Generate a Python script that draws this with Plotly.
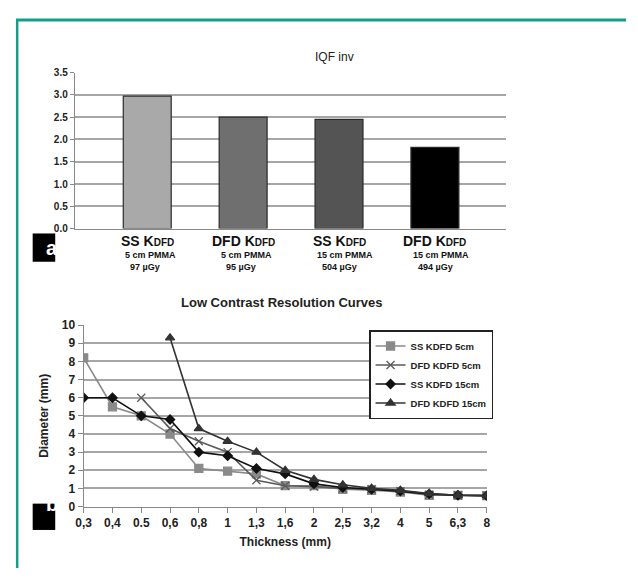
import plotly.graph_objects as go

# page is 638x583; the browser body keeps an 8px margin, so the figure is 622x567
PAGE_OFF = 8
FW, FH = 622, 567

# ---- data: top bar chart ----
bar_main = ["SS K", "DFD K", "SS K", "DFD K"]
bar_sub1 = ["5 cm PMMA", "5 cm PMMA", "15 cm PMMA", "15 cm PMMA"]
bar_sub2 = ["97 µGy", "95 µGy", "504 µGy", "494 µGy"]
bar_keys = ["SS 5", "DFD 5", "SS 15", "DFD 15"]
bar_values = [2.97, 2.5, 2.45, 1.82]
bar_colors = ["#a9a9a9", "#6f6f6f", "#545454", "#000000"]
bar_yticks = [0.0, 0.5, 1.0, 1.5, 2.0, 2.5, 3.0, 3.5]
bar_yticktext = ["0.0", "0.5", "1.0", "1.5", "2.0", "2.5", "3.0", "3.5"]

# ---- data: bottom line chart ----
thickness = ["0,3", "0,4", "0.5", "0,6", "0,8", "1", "1,3", "1,6", "2", "2,5", "3,2", "4", "5", "6,3", "8"]
ss_5 = [8.2, 5.5, 5.0, 4.0, 2.1, 1.95, 1.8, 1.15, 1.15, 0.95, 0.9, 0.8, 0.62, 0.62, 0.6]
dfd_5 = [None, None, 6.0, 4.3, 3.6, 3.0, 1.45, 1.15, 1.1, 1.0, 0.95, 0.85, 0.65, 0.62, 0.6]
ss_15 = [6.0, 6.0, 5.0, 4.8, 3.0, 2.8, 2.1, 1.8, 1.25, 1.05, 0.95, 0.85, 0.7, 0.62, 0.6]
dfd_15 = [None, None, None, 9.3, 4.3, 3.6, 3.0, 2.0, 1.5, 1.2, 1.0, 0.9, 0.72, 0.62, 0.6]
line_names = ["SS KDFD 5cm", "DFD KDFD 5cm", "SS KDFD 15cm", "DFD KDFD 15cm"]


def px(x):
    return (x - PAGE_OFF) / FW


def py(y):
    return 1 - (y - PAGE_OFF) / FH


fig = go.Figure()

fig.add_trace(go.Bar(
    x=bar_keys, y=bar_values, marker=dict(color=bar_colors, line=dict(color="#2a2a2a", width=1.2)),
    width=0.5, showlegend=False, xaxis="x", yaxis="y",
))

styles = [
    dict(color="#8a8a8a", symbol="square", size=8, lw=1.6),
    dict(color="#5a5a5a", symbol="x-thin", size=8, lw=1.6),
    dict(color="#111111", symbol="diamond", size=7, lw=1.6),
    dict(color="#333333", symbol="triangle-up", size=8, lw=1.6),
]
for name, vals, st in zip(line_names, [ss_5, dfd_5, ss_15, dfd_15], styles):
    fig.add_trace(go.Scatter(
        x=thickness, y=vals, name=name, mode="lines+markers",
        line=dict(color=st["color"], width=st["lw"]),
        marker=dict(symbol=st["symbol"], size=st["size"], color=st["color"],
                    line=dict(color=st["color"], width=1.3)),
        connectgaps=False, xaxis="x2", yaxis="y2",
    ))

grid = "#a6a6a6"
FONT = "Liberation Sans Narrow, Liberation Sans"

fig.update_layout(
    width=FW, height=FH, margin=dict(l=0, r=0, t=0, b=0),
    paper_bgcolor="white", plot_bgcolor="white",
    xaxis=dict(domain=[px(68), px(508)], range=[-0.755, 3.745], showticklabels=False,
               showline=True, linecolor="#888", linewidth=1.2, ticks="", showgrid=False,
               anchor="y", fixedrange=True),
    yaxis=dict(domain=[py(227), py(67)], range=[0, 3.5], tickvals=bar_yticks, ticktext=bar_yticktext,
               showline=True, linecolor="#888", linewidth=1.2, ticks="outside", ticklen=4,
               tickcolor="#888", showgrid=True, gridcolor=grid, gridwidth=1.5,
               tickfont=dict(family=FONT, size=10, color="#222", weight="bold"), anchor="x",
               zeroline=False),
    xaxis2=dict(domain=[px(77), px(488)], range=[0, 14], type="category",
                showline=True, linecolor="#888", linewidth=1.2, ticks="outside", ticklen=5,
                tickcolor="#888", showgrid=False, tickfont=dict(family=FONT, size=12, color="#222", weight="bold"),
                anchor="y2", title=dict(text="Thickness (mm)", font=dict(family=FONT, size=12, color="#222", weight="bold"), standoff=8)),
    yaxis2=dict(domain=[py(512), py(326)], range=[0, 10], dtick=1,
                showline=True, linecolor="#888", linewidth=1.2, ticks="outside", ticklen=5,
                tickcolor="#888", showgrid=True, gridcolor=grid, gridwidth=1.5, zeroline=False,
                tickfont=dict(family=FONT, size=12, color="#222", weight="bold"), anchor="x2",
                title=dict(text="Diameter (mm)", font=dict(family=FONT, size=12, color="#222", weight="bold"), standoff=10)),
    legend=dict(x=px(368), y=py(331), xanchor="left", yanchor="top",
                bordercolor="#222", borderwidth=1.5, bgcolor="white",
                font=dict(family=FONT, size=9.5, color="#222", weight="bold"),
                tracegroupgap=0, itemwidth=30),
    showlegend=True,
)

ann = []
ann.append(dict(text="IQF inv", x=px(333), y=py(42), xref="paper", yref="paper", showarrow=False,
                font=dict(family="Liberation Sans", size=12, color="#222")))
ann.append(dict(text="<b>Low Contrast Resolution Curves</b>", x=px(279), y=py(303), xref="paper", yref="paper",
                showarrow=False, font=dict(family="Liberation Sans", size=13, color="#222")))
for key, m, s1, s2 in zip(bar_keys, bar_main, bar_sub1, bar_sub2):
    ann.append(dict(text="<b>" + m + "<span style='font-size:10px'>DFD</span></b>", x=key, xref="x",
                    y=py(240), yref="paper", showarrow=False,
                    font=dict(family="Liberation Sans", size=14, color="#111")))
    ann.append(dict(text="<b>" + s1 + "<br>&nbsp;&nbsp;" + s2 + "</b>", x=key, xref="x", xshift=-24, xanchor="left",
                    y=py(247), yref="paper", yanchor="top", showarrow=False, align="left",
                    font=dict(family=FONT, size=9, color="#111")))

for lab, y0, y1 in [("a", 232, 261), ("b", 509, 536)]:
    ann.append(dict(text="<b>" + lab + "</b>", x=px(36.5), y=py((y0 + y1) / 2), xref="paper", yref="paper",
                    showarrow=False, font=dict(family="Liberation Sans", size=20, color="white")))
fig.update_layout(annotations=ann)

shapes = [
    dict(type="rect", xref="paper", yref="paper", x0=px(25), x1=px(48), y0=py(261), y1=py(232),
         fillcolor="black", line=dict(width=0), layer="above"),
    dict(type="rect", xref="paper", yref="paper", x0=px(25), x1=px(48), y0=py(536), y1=py(509),
         fillcolor="black", line=dict(width=0), layer="above"),
    dict(type="line", xref="paper", yref="paper", x0=0, x1=1.0, y0=py(13), y1=py(13),
         line=dict(color="#139e88", width=3)),
    dict(type="line", xref="paper", yref="paper", x0=px(9.2), x1=px(9.2), y0=py(13), y1=0,
         line=dict(color="#139e88", width=2.5)),
]
fig.update_layout(shapes=shapes)

fig.write_html("out.html", config=dict(displayModeBar=False))
